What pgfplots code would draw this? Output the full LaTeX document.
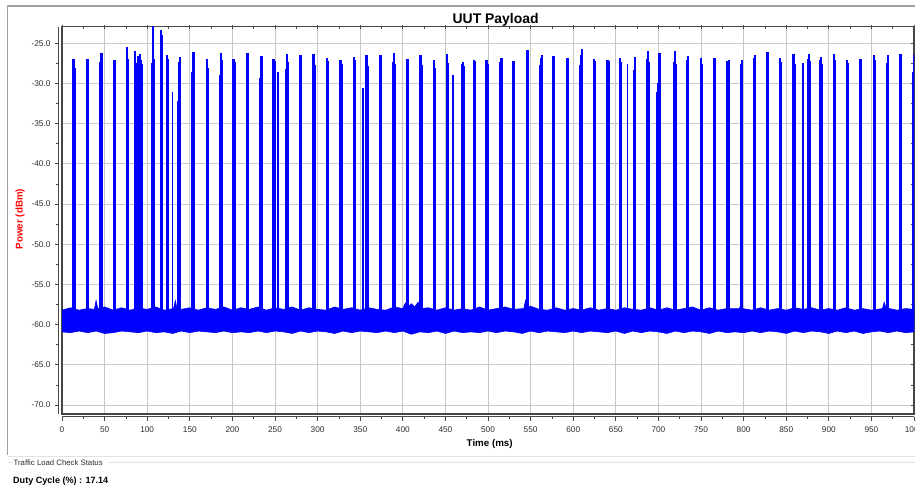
\documentclass[border=0pt]{standalone}
\usepackage{pgfplots}
\pgfplotsset{compat=1.18}
\usepackage{fontspec}
\setmainfont{Liberation Sans}
\definecolor{sig}{RGB}{0,0,255}
\definecolor{gridc}{RGB}{200,200,200}
\definecolor{spine}{RGB}{70,70,70}
\definecolor{framec}{RGB}{160,160,160}
\definecolor{boxc}{RGB}{222,227,232}
\definecolor{txt}{RGB}{45,45,45}

\begin{document}
\begin{tikzpicture}
\path[use as bounding box] (0bp,0bp) rectangle (915bp,491bp);
% outer frame
\draw[framec, line width=1.3bp] (7.5bp,36bp) -- (7.5bp,485bp) -- (915bp,485bp);
\draw[boxc, line width=1bp] (8bp,34.5bp) -- (915bp,34.5bp);
\draw[boxc, line width=1bp] (8bp,28.5bp) -- (12bp,28.5bp);
\draw[boxc, line width=1bp] (108bp,28.5bp) -- (915bp,28.5bp);

\begin{axis}[
    name=ax,
    at={(62bp,77bp)}, anchor=south west,
    scale only axis,
    width=852bp, height=387.3bp,
    xmin=0, xmax=1000,
    ymin=-71.12, ymax=-22.93,
    axis line style={spine, line width=1.2bp},
    xtick={0,50,...,1000},
    minor xtick={25,75,...,975},
    ytick={-70,-65,...,-25},
    minor ytick={-67.5,-62.5,...,-27.5},
    tick align=outside,
    major tick length=4bp, minor tick length=2.5bp,
    every tick/.style={spine, line width=0.8bp},
    xtick style={yshift=-2.7bp},
    ytick style={xshift=-3.5bp},
    grid=major,
    major grid style={gridc, line width=0.9bp},
    tick label style={font=\fontsize{8.3}{10}\selectfont, text=txt},
    /pgf/number format/assume math mode=true,
    xticklabel={\pgfmathprintnumber[fixed,precision=0,1000 sep={}]{\tick}},
    yticklabel={\pgfmathprintnumber[fixed,fixed zerofill,precision=1]{\tick}},
    xticklabel style={yshift=-5.5bp},
    yticklabel style={xshift=-4bp},
    title={UUT Payload},
    title style={at={(axis description cs:0.509,1.001)}, anchor=center,
        font=\bfseries\fontsize{14}{16}\selectfont, text=black},
    xlabel={Time (ms)},
    xlabel style={at={(axis description cs:0.502,-0.0723)}, anchor=center, yshift=-1.5bp,
        font=\bfseries\fontsize{9.8}{12}\selectfont, text=black},
    ylabel={Power (dBm)},
    ylabel style={at={(axis description cs:-0.0493,0.5035)}, anchor=center, rotate=0,
        font=\bfseries\fontsize{9.8}{12}\selectfont, text=red},
]

% noise floor band: upper edge left to right, lower edge right to left
\addplot[fill=sig, draw=sig, line width=0.6bp] coordinates {
(0,-58.2)(10,-57.9)(20,-58.2)(30,-58.0)(38,-58.1)(40,-57.0)(42,-58.0)(50,-57.8)(60,-58.2)(70,-57.9)
(80,-58.2)(90,-57.9)(92,-57.5)(94,-58.0)(100,-58.1)(110,-57.8)(120,-58.2)(131,-58.0)(133,-57.0)(135,-58.0)
(140,-58.1)(150,-57.9)(160,-58.2)(170,-57.9)(180,-58.1)(190,-57.8)(200,-58.2)(210,-57.9)(220,-58.1)(230,-57.8)
(240,-58.2)(250,-57.9)(260,-58.1)(270,-57.8)(280,-58.2)(290,-57.9)(300,-58.1)(310,-58.2)(320,-57.8)(330,-58.1)
(340,-57.9)(350,-58.2)(360,-57.9)(370,-58.1)(380,-58.2)(390,-57.8)(400,-58.0)(403,-57.3)(406,-57.8)(410,-57.4)
(414,-57.8)(418,-57.2)(422,-58.0)(430,-57.9)(440,-58.2)(450,-57.9)(460,-58.2)(470,-58.0)(480,-58.2)(490,-57.8)
(500,-58.2)(510,-58.0)(520,-57.8)(530,-58.1)(542,-58.0)(544,-57.0)(546,-57.9)(550,-57.7)(560,-58.1)(570,-58.2)
(580,-57.9)(590,-58.2)(600,-58.0)(610,-58.2)(620,-57.9)(630,-58.2)(640,-58.0)(650,-58.2)(660,-57.9)(670,-58.1)
(680,-58.2)(690,-57.9)(700,-58.2)(710,-57.9)(720,-58.2)(730,-58.0)(740,-57.8)(750,-58.2)(760,-57.9)(770,-58.2)
(780,-58.0)(795,-58.0)(797,-57.5)(799,-58.0)(810,-58.2)(820,-57.9)(830,-58.2)(840,-58.0)(850,-58.2)(860,-57.9)
(870,-58.1)(880,-57.9)(890,-58.2)(900,-58.0)(910,-58.2)(920,-57.9)(930,-58.2)(940,-58.0)(950,-58.2)(963,-58.0)
(965,-57.2)(967,-57.9)(980,-58.2)(990,-58.0)(1000,-58.1)
(1000,-60.9)(990,-61.0)(980,-60.8)(970,-61.0)(960,-60.8)(950,-60.9)(940,-61.1)(930,-60.8)(920,-61.0)(910,-60.8)
(900,-61.1)(890,-60.9)(880,-60.8)(870,-61.0)(860,-60.8)(850,-61.1)(840,-60.9)(830,-60.8)(820,-61.0)(810,-60.8)
(800,-61.0)(790,-60.9)(780,-61.0)(770,-60.8)(760,-61.1)(750,-60.9)(740,-60.8)(730,-61.0)(720,-60.8)(710,-61.1)
(700,-60.9)(690,-60.8)(680,-61.0)(670,-60.8)(660,-61.1)(650,-60.8)(640,-61.0)(630,-60.9)(620,-60.8)(610,-61.0)
(600,-60.8)(590,-61.0)(580,-60.9)(570,-60.8)(560,-61.0)(550,-60.8)(540,-61.1)(530,-60.9)(520,-60.8)(510,-61.0)
(500,-60.8)(490,-61.0)(480,-60.9)(470,-61.0)(460,-60.8)(450,-61.1)(440,-60.8)(430,-61.0)(420,-60.9)(410,-61.2)
(400,-60.8)(390,-61.0)(380,-60.8)(370,-61.0)(360,-60.9)(350,-60.8)(340,-61.0)(330,-60.8)(320,-61.1)(310,-60.9)
(300,-60.8)(290,-61.0)(280,-60.8)(270,-61.1)(260,-60.9)(250,-60.8)(240,-61.0)(230,-60.8)(220,-61.0)(210,-60.9)
(200,-61.0)(190,-60.8)(180,-61.0)(170,-60.9)(160,-60.8)(150,-61.0)(140,-60.8)(130,-61.1)(120,-60.9)(110,-61.0)
(100,-60.8)(90,-61.0)(80,-60.9)(70,-60.8)(60,-61.0)(50,-61.1)(40,-60.8)(30,-61.0)(20,-60.8)(10,-61.0)
(0,-60.9)
};

% payload bursts (filled down to the noise floor)
\addplot[sig, fill=sig, line width=1.4bp] coordinates {
(0,-60)
(13.0,-60)(13.0,-27.0)(14.0,-27.0)(14.0,-28.2)(15.3,-28.2)(15.3,-60)
(28.7,-60)(28.7,-27.6)(29.5,-27.6)(29.5,-27.0)(30.6,-27.0)(30.6,-27.8)(31.0,-27.8)(31.0,-60)
(44.8,-60)(44.8,-27.4)(45.8,-27.4)(45.8,-26.3)(46.8,-26.3)(46.8,-28.7)(47.8,-28.7)(47.8,-60)
(60.8,-60)(60.8,-27.1)(62.6,-27.1)(62.6,-27.4)(63.0,-27.4)(63.0,-60)
(75.5,-60)(75.5,-25.5)(76.6,-25.5)(76.6,-27.0)(77.5,-27.0)(77.5,-60)
(84.8,-60)(84.8,-26.0)(86.0,-26.0)(86.0,-27.5)(87.0,-27.5)(87.0,-60)
(89.0,-60)(89.0,-26.7)(89.4,-26.7)(89.4,-60)
(91.2,-60)(91.2,-26.4)(92.3,-26.4)(92.3,-27.2)(93.6,-27.2)(93.6,-27.7)(94.6,-27.7)(94.6,-60)
(105.2,-60)(105.2,-27.5)(106.0,-27.5)(106.0,-22.0)(107.2,-22.0)(107.2,-27.0)(108.0,-27.0)(108.0,-60)
(115.6,-60)(115.6,-23.4)(116.8,-23.4)(116.8,-24.1)(117.8,-24.1)(117.8,-60)
(122.3,-60)(122.3,-26.6)(123.5,-26.6)(123.5,-27.0)(124.3,-27.0)(124.3,-60)
(129.6,-60)(129.6,-31.1)(130.0,-31.1)(130.0,-60)
(135.4,-60)(135.4,-32.3)(136.6,-32.3)(136.6,-27.4)(137.8,-27.4)(137.8,-26.8)(139.0,-26.8)(139.0,-60)
(152.8,-60)(152.8,-28.7)(153.8,-28.7)(153.8,-26.2)(155.0,-26.2)(155.0,-26.9)(155.8,-26.9)(155.8,-60)
(169.6,-60)(169.6,-27.0)(171.0,-27.0)(171.0,-28.1)(171.8,-28.1)(171.8,-60)
(185.0,-60)(185.0,-29.0)(186.0,-29.0)(186.0,-26.3)(187.0,-26.3)(187.0,-27.2)(187.8,-27.2)(187.8,-60)
(200.9,-60)(200.9,-27.0)(202.2,-27.0)(202.2,-27.4)(203.0,-27.4)(203.0,-60)
(216.4,-60)(216.4,-29.9)(217.0,-29.9)(217.0,-26.3)(218.4,-26.3)(218.4,-60)
(231.8,-60)(231.8,-29.4)(232.8,-29.4)(232.8,-27.2)(233.6,-27.2)(233.6,-26.7)(234.6,-26.7)(234.6,-28.1)(235.6,-28.1)(235.6,-60)
(247.8,-60)(247.8,-27.0)(249.2,-27.0)(249.2,-27.3)(250.0,-27.3)(250.0,-60)
(252.9,-60)(252.9,-28.7)(253.3,-28.7)(253.3,-60)
(263.0,-60)(263.0,-28.3)(264.0,-28.3)(264.0,-26.4)(265.0,-26.4)(265.0,-27.4)(265.8,-27.4)(265.8,-60)
(279.2,-60)(279.2,-26.5)(280.6,-26.5)(280.6,-26.8)(281.4,-26.8)(281.4,-60)
(294.8,-60)(294.8,-26.4)(296.0,-26.4)(296.0,-27.8)(297.0,-27.8)(297.0,-60)
(310.5,-60)(310.5,-26.9)(311.6,-26.9)(311.6,-27.3)(312.4,-27.3)(312.4,-28.6)(313.0,-28.6)(313.0,-60)
(326.2,-60)(326.2,-27.1)(327.6,-27.1)(327.6,-27.6)(328.4,-27.6)(328.4,-60)
(341.8,-60)(341.8,-26.8)(343.0,-26.8)(343.0,-27.2)(344.0,-27.2)(344.0,-60)
(352.9,-60)(352.9,-30.6)(353.3,-30.6)(353.3,-60)
(356.6,-60)(356.6,-26.6)(357.8,-26.6)(357.8,-27.0)(358.6,-27.0)(358.6,-27.9)(359.4,-27.9)(359.4,-60)
(373.2,-60)(373.2,-26.5)(374.4,-26.5)(374.4,-28.0)(375.2,-28.0)(375.2,-60)
(388.1,-60)(388.1,-27.4)(389.0,-27.4)(389.0,-26.3)(390.0,-26.3)(390.0,-27.6)(390.8,-27.6)(390.8,-60)
(404.6,-60)(404.6,-27.0)(406.0,-27.0)(406.0,-27.2)(406.8,-27.2)(406.8,-60)
(420.2,-60)(420.2,-26.5)(421.4,-26.5)(421.4,-27.8)(422.4,-27.8)(422.4,-60)
(435.8,-60)(435.8,-27.1)(437.0,-27.1)(437.0,-28.2)(438.0,-28.2)(438.0,-60)
(451.5,-60)(451.5,-26.4)(452.6,-26.4)(452.6,-27.5)(453.6,-27.5)(453.6,-60)
(458.6,-60)(458.6,-29.0)(459.0,-29.0)(459.0,-60)
(469.4,-60)(469.4,-27.6)(470.4,-27.6)(470.4,-27.4)(471.4,-27.4)(471.4,-27.9)(472.6,-27.9)(472.6,-60)
(482.8,-60)(482.8,-27.1)(484.2,-27.1)(484.2,-27.3)(485.0,-27.3)(485.0,-60)
(497.8,-60)(497.8,-27.1)(499.0,-27.1)(499.0,-27.6)(499.8,-27.6)(499.8,-60)
(513.4,-60)(513.4,-27.4)(514.4,-27.4)(514.4,-27.2)(515.4,-27.2)(515.4,-26.9)(516.2,-26.9)(516.2,-60)
(529.2,-60)(529.2,-27.3)(530.4,-27.3)(530.4,-27.6)(531.2,-27.6)(531.2,-60)
(545.6,-60)(545.6,-25.9)(546.8,-25.9)(546.8,-27.6)(547.6,-27.6)(547.6,-60)
(561.2,-60)(561.2,-27.8)(562.2,-27.8)(562.2,-26.9)(563.2,-26.9)(563.2,-26.5)(564.0,-26.5)(564.0,-60)
(576.2,-60)(576.2,-26.7)(577.8,-26.7)(577.8,-60)
(591.8,-60)(591.8,-27.3)(592.8,-27.3)(592.8,-26.9)(593.8,-26.9)(593.8,-60)
(608.2,-60)(608.2,-27.8)(609.0,-27.8)(609.0,-26.6)(609.8,-26.6)(609.8,-25.8)(610.2,-25.8)(610.2,-27.4)(611.0,-27.4)(611.0,-60)
(623.8,-60)(623.8,-27.0)(625.0,-27.0)(625.0,-27.3)(626.0,-27.3)(626.0,-60)
(639.6,-60)(639.6,-27.1)(641.0,-27.1)(641.0,-27.3)(641.8,-27.3)(641.8,-60)
(654.4,-60)(654.4,-26.9)(655.8,-26.9)(655.8,-27.4)(656.6,-27.4)(656.6,-60)
(663.6,-60)(663.6,-27.7)(664.0,-27.7)(664.0,-60)
(670.8,-60)(670.8,-28.4)(671.8,-28.4)(671.8,-27.3)(672.6,-27.3)(672.6,-26.8)(673.4,-26.8)(673.4,-60)
(686.6,-60)(686.6,-27.0)(687.6,-27.0)(687.6,-26.0)(688.4,-26.0)(688.4,-27.4)(689.2,-27.4)(689.2,-60)
(697.6,-60)(697.6,-31.2)(699.4,-31.2)(699.4,-30.0)(700.8,-30.0)(700.8,-26.3)(702.0,-26.3)(702.0,-60)
(717.8,-60)(717.8,-27.4)(718.8,-27.4)(718.8,-26.0)(719.8,-26.0)(719.8,-27.6)(720.8,-27.6)(720.8,-60)
(733.6,-60)(733.6,-27.2)(734.6,-27.2)(734.6,-26.7)(735.6,-26.7)(735.6,-60)
(749.2,-60)(749.2,-26.9)(750.6,-26.9)(750.6,-27.6)(751.6,-27.6)(751.6,-60)
(765.0,-60)(765.0,-26.9)(766.2,-26.9)(766.2,-27.5)(767.2,-27.5)(767.2,-60)
(780.6,-60)(780.6,-27.3)(782.0,-27.3)(782.0,-27.2)(782.8,-27.2)(782.8,-60)
(796.2,-60)(796.2,-27.6)(797.2,-27.6)(797.2,-27.1)(798.2,-27.1)(798.2,-60)
(812.0,-60)(812.0,-26.9)(813.2,-26.9)(813.2,-26.5)(814.0,-26.5)(814.0,-60)
(826.8,-60)(826.8,-27.3)(827.6,-27.3)(827.6,-26.2)(828.4,-26.2)(828.4,-60)
(842.4,-60)(842.4,-26.9)(843.6,-26.9)(843.6,-27.4)(844.6,-27.4)(844.6,-60)
(858.2,-60)(858.2,-26.4)(859.4,-26.4)(859.4,-27.7)(860.4,-27.7)(860.4,-60)
(869.2,-60)(869.2,-27.5)(869.6,-27.5)(869.6,-60)
(875.2,-60)(875.2,-27.0)(876.0,-27.0)(876.0,-26.4)(877.0,-26.4)(877.0,-27.3)(878.0,-27.3)(878.0,-60)
(889.4,-60)(889.4,-27.2)(890.4,-27.2)(890.4,-26.8)(891.4,-26.8)(891.4,-27.6)(892.0,-27.6)(892.0,-60)
(905.2,-60)(905.2,-26.4)(906.4,-26.4)(906.4,-27.2)(907.2,-27.2)(907.2,-60)
(920.8,-60)(920.8,-27.1)(922.0,-27.1)(922.0,-27.5)(923.0,-27.5)(923.0,-60)
(936.4,-60)(936.4,-27.0)(937.6,-27.0)(937.6,-27.6)(938.6,-27.6)(938.6,-60)
(952.2,-60)(952.2,-26.5)(953.4,-26.5)(953.4,-27.2)(954.4,-27.2)(954.4,-60)
(967.8,-60)(967.8,-27.5)(968.6,-27.5)(968.6,-26.5)(969.6,-26.5)(969.6,-60)
(983.4,-60)(983.4,-26.4)(984.8,-26.4)(984.8,-27.5)(985.6,-27.5)(985.6,-60)
(998.6,-60)(998.6,-28.7)(999.4,-28.7)(999.4,-26.4)(1000,-26.4)(1000,-60)
};
\end{axis}

% offset axis lines carrying the ticks
\draw[spine, line width=1.2bp] ([yshift=-2.7bp]ax.south west) -- ([yshift=-2.7bp]ax.south east);
\draw[spine, line width=1.2bp] ([xshift=-3.5bp]ax.south west) -- ([xshift=-3.5bp]ax.north west);

% status panel below the chart
\node[anchor=west, inner sep=0pt, text=txt, font=\fontsize{7.8}{9}\selectfont] at (13.5bp,28.5bp) {Traffic Load Check Status};
\node[anchor=west, inner sep=0pt, text=black, font=\bfseries\fontsize{9.1}{11}\selectfont] at (13bp,10bp) {Duty Cycle (\%) : 17.14};
\end{tikzpicture}
\end{document}
